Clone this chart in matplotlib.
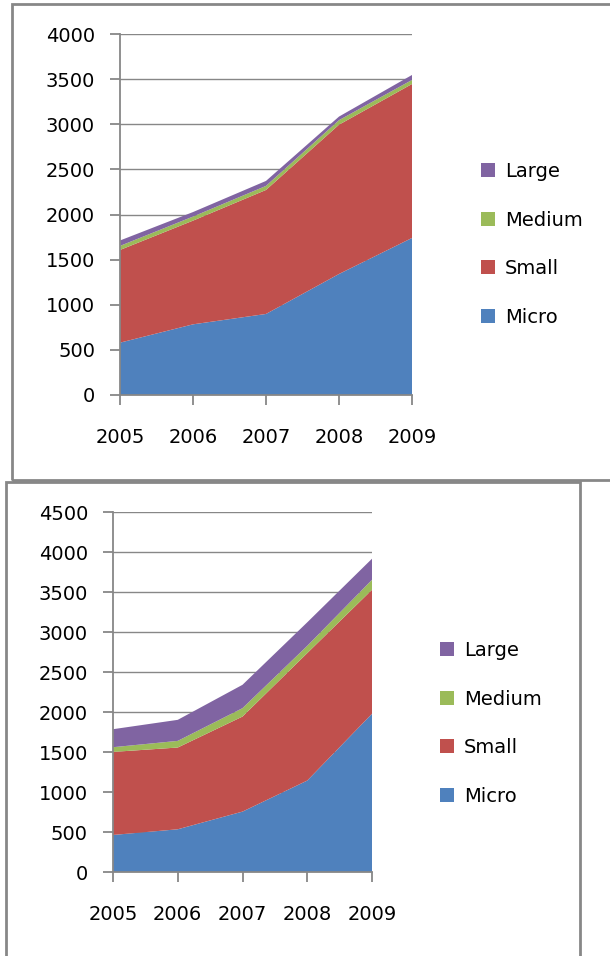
#!/usr/bin/env python3

from matplotlib import pyplot as plt
from matplotlib.patches import Rectangle, Patch

years = [2005, 2006, 2007, 2008, 2009]
labels = ["Micro", "Small", "Medium", "Large"]
colors = ["#4F81BD", "#C0504D", "#9BBB59", "#8064A2"]

# top chart
micro_a = [580, 783, 898, 1341, 1740]
small_a = [1027, 1149, 1374, 1654, 1706]
medium_a = [45, 45, 45, 50, 45]
large_a = [60, 50, 55, 40, 55]

# bottom chart
micro_b = [463, 534, 755, 1143, 1978]
small_b = [1038, 1022, 1188, 1593, 1550]
medium_b = [59, 83, 105, 91, 125]
large_b = [225, 263, 292, 294, 263]

W, H = 610, 956
GRAY = "#878787"


def px_rect(x0, y0, x1, y1):
    # pixel box (from top-left) -> figure fraction [l, b, w, h]
    return [x0 / W, 1 - y1 / H, (x1 - x0) / W, (y1 - y0) / H]


def draw_chart(fig, rect, series, ymax, leg_xy, leg_space):
    ax = fig.add_axes(rect)
    ax.stackplot(years, *series, colors=colors, labels=labels, linewidth=0)
    ax.set_xlim(2005, 2009)
    ax.set_ylim(0, ymax)
    ax.set_xticks(years)
    ax.set_yticks(range(0, ymax + 1, 500))
    ax.yaxis.grid(True, color=GRAY, linewidth=1)
    ax.set_axisbelow(True)
    for s in ["top", "right"]:
        ax.spines[s].set_visible(False)
    for s in ["left", "bottom"]:
        ax.spines[s].set_color(GRAY)
        ax.spines[s].set_linewidth(1.3)
    ax.tick_params(axis="y", colors=GRAY, labelcolor="black", labelsize=14,
                   length=7, width=1.3, pad=11)
    ax.tick_params(axis="x", colors=GRAY, labelcolor="black", labelsize=14,
                   length=7, width=1.3, pad=17)
    handles = [Patch(facecolor=c, edgecolor="none") for c in colors][::-1]
    fig.legend(handles, labels[::-1], loc="upper left",
               bbox_to_anchor=(leg_xy[0] / W, 1 - leg_xy[1] / H),
               frameon=False, fontsize=14, handlelength=0.72,
               handleheight=0.72, handletextpad=0.5,
               labelspacing=leg_space, borderaxespad=0, borderpad=0)
    return ax


def main():
    fig = plt.figure(figsize=(W / 100, H / 100), dpi=100)
    plt.rcParams['font.family'] = ['DejaVu Sans']

    # frames
    fig.patches.append(Rectangle((12 / W, 1 - 480 / H), 620 / W, 476 / H,
                                 transform=fig.transFigure, fill=False,
                                 edgecolor=GRAY, linewidth=2))
    fig.patches.append(Rectangle((6 / W, 1 - 970 / H), 574 / W, 488 / H,
                                 transform=fig.transFigure, fill=False,
                                 edgecolor=GRAY, linewidth=2))

    draw_chart(fig, px_rect(120, 34, 412, 395),
               [micro_a, small_a, medium_a, large_a], 4000, (481, 162), 1.52)
    draw_chart(fig, px_rect(113, 512, 372, 872),
               [micro_b, small_b, medium_b, large_b], 4500, (440, 641), 1.52)

    fig.savefig("out.png", dpi=100)


if __name__ == "__main__":
    main()
